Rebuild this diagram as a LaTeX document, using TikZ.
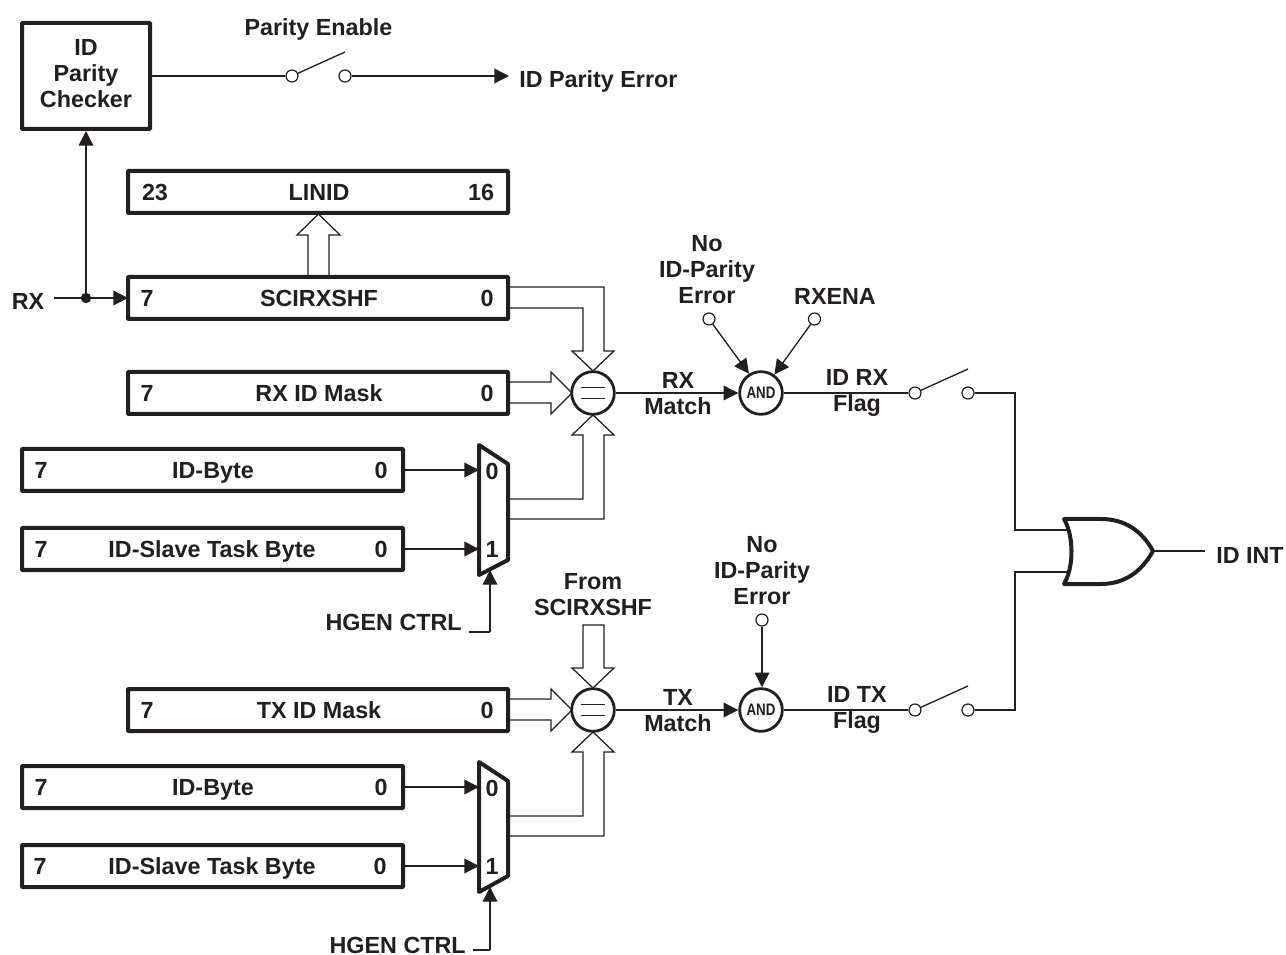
\documentclass[tikz,border=0pt]{standalone}
\usepackage{graphicx}
\usepackage{fontspec}
\setmainfont{Liberation Sans}
\definecolor{ink}{HTML}{231F20}
\usetikzlibrary{arrows.meta}
\tikzset{
  every node/.style={font=\fontsize{17.5}{19.5}\selectfont\bfseries,text=ink,inner sep=0pt},
  sl/.style={text height=12.3pt,text depth=0pt},
  wire/.style={draw=ink,line width=1pt,line join=miter},
  arr/.style={wire,-{Triangle[length=11pt,width=11pt,fill=ink]}},
  regbox/.style={draw=ink,line width=3pt,fill=white,rounded corners=0.6pt},
  lbl/.style={align=center},
  term/.style={circle,draw=ink,line width=0.9pt,fill=white,minimum size=9pt},
  blade/.style={draw=ink,line width=1pt},
  wide/.style={draw=ink,line width=0.95pt,fill=white,line join=miter},
  gatec/.style={circle,draw=ink,line width=2.1pt,fill=white,minimum size=32pt},
  gatet/.style={font=\fontsize{12.5}{13}\selectfont\bfseries},
  muxs/.style={draw=ink,line width=3pt,fill=white,line join=round}
}
\newcommand{\reg}[9]{%
  \draw[regbox] (#2,#3) rectangle (#4,#5);
  \node[sl] (#1L) at (#7,{(#3+#5)/2}) {#9};
  \coordinate (#1) at ({(#2+#4)/2},{(#3+#5)/2});
  \coordinate (#1w) at (#2,{(#3+#5)/2});
  \coordinate (#1e) at (#4,{(#3+#5)/2});
  \node[sl] at (#6,{(#3+#5)/2}) {#8};
}
\begin{document}
\begin{tikzpicture}[x=0.75pt,y=-0.75pt]
\useasboundingbox (0,0) rectangle (1286,955);

%% wide arrows
\draw[wide] (308,277) -- (308,235) -- (297,235) -- (318.5,214) -- (340,235) -- (329,235) -- (329,277);
\draw[wide] (508,287) -- (604,287) -- (604,351) -- (614,351) -- (593,371) -- (572,351) -- (583,351) -- (583,308) -- (508,308);
\draw[wide] (508,382) -- (551,382) -- (551,372) -- (572,393) -- (551,414) -- (551,403) -- (508,403);
\draw[wide] (508,499) -- (583,499) -- (583,435) -- (572,435) -- (593,415) -- (614,435) -- (604,435) -- (604,519) -- (508,519);
\draw[wide] (583,625) -- (583,668) -- (572,668) -- (593,688) -- (614,668) -- (604,668) -- (604,625) -- cycle;
\draw[wide] (508,699) -- (551,699) -- (551,689) -- (572,710) -- (551,731) -- (551,720) -- (508,720);
\draw[wide] (508,816) -- (583,816) -- (583,752) -- (572,752) -- (593,732) -- (614,752) -- (604,752) -- (604,836) -- (508,836);

%% boxes
\node[draw=ink,line width=3pt,rounded corners=0.6pt,fill=white,minimum width=96pt,minimum height=79.5pt] (chk) at (86,76) {};
\node[lbl] (chkL) at (86,74) {ID\\Parity\\Checker};
\reg{linid}{128}{171}{508}{213}{319}{155}{LINID}{23}
\node[sl] at (481,192) {16};
\reg{shf}{128}{277}{508}{319}{319}{147}{SCIRXSHF}{7}
\node[sl] at (487,298) {0};
\reg{rxm}{128}{372}{508}{414}{319}{147}{RX ID Mask}{7}
\node[sl] at (487,393) {0};
\reg{byA}{22}{449}{403}{491}{213}{41}{ID-Byte}{7}
\node[sl] at (381,470) {0};
\reg{slA}{22}{528}{403}{570}{212}{41}{ID-Slave Task Byte}{7}
\node[sl] at (381,549) {0};
\reg{txm}{128}{689}{508}{731}{319}{147}{TX ID Mask}{7}
\node[sl] at (487,710) {0};
\reg{byB}{22}{766}{403}{808}{213}{41}{ID-Byte}{7}
\node[sl] at (381,787) {0};
\reg{slB}{22}{845}{403}{887}{212}{40}{ID-Slave Task Byte}{7}
\node[sl] at (380,866) {0};

%% muxes
\draw[muxs] (479,445) -- (508,464) -- (508,560) -- (479,575) -- cycle;
\node[sl] at (492,471) {0};
\node[sl] at (492,549) {1};
\coordinate (muxA0) at (479,470);
\coordinate (muxA1) at (479,549);
\coordinate (muxAs) at (490,570);
\draw[muxs] (479,762) -- (508,781) -- (508,876) -- (479,892) -- cycle;
\node[sl] at (492,788) {0};
\node[sl] at (492,866) {1};
\coordinate (muxB0) at (479,787);
\coordinate (muxB1) at (479,866);
\coordinate (muxBs) at (490,887);

%% comparators
\node[gatec] (eqA) at (593,393) {};
\draw[draw=ink,line width=0.95pt] (581,387.5) -- (605,387.5) (581,398.5) -- (605,398.5);
\node[gatec] (eqB) at (593,710) {};
\draw[draw=ink,line width=0.95pt] (581,704.5) -- (605,704.5) (581,715.5) -- (605,715.5);
\node[gatec,gatet] (andA) at (761,393) {\scalebox{0.8}[1]{AND}};
\node[gatec,gatet] (andB) at (761,710) {\scalebox{0.8}[1]{AND}};

%% parity enable switch
\node[term] (psa) at (292,76) {};
\node[term] (psb) at (345,76) {};
\coordinate (psc) at (345,52);
\draw[blade] (psa) -- (psc);
\draw[wire] (chk.east |- psa) -- (psa);
\node[sl,anchor=west] (perr) at (519,79) {ID Parity Error};
\draw[arr] (psb) -- (509,76);
\node[sl] (pen) at (318.5,27) {Parity Enable};

%% RX input
\node[sl] (rx) at (28,301) {RX};
\coordinate (rxs) at (54,298);
\draw[arr] (rxs) -- (shfw);
\fill[ink] (86,298) circle (5.2) coordinate (rxd);
\draw[arr] (rxd) -- (chk.south -| rxd);

%% mux inputs
\draw[arr] (byAe) -- (muxA0);
\draw[arr] (slAe) -- (muxA1);
\draw[arr] (byBe) -- (muxB0);
\draw[arr] (slBe) -- (muxB1);
\node[sl,anchor=east] (hgA) at (462,622) {HGEN CTRL};
\coordinate (hgAc) at (490,632);
\draw[wire] (469,632) -- (hgAc);
\draw[arr] (hgAc) -- (muxAs);
\node[sl,anchor=east] (hgB) at (466,945) {HGEN CTRL};
\coordinate (hgBc) at (490,950);
\draw[wire] (473,950) -- (hgBc);
\draw[arr] (hgBc) -- (muxBs);

\node[lbl] (from) at (593,595) {From\\SCIRXSHF};

%% matches
\draw[arr] (eqA.east) -- (andA.west);
\draw[arr] (eqB.east) -- (andB.west);
\node[lbl] (rxm1) at (678,394) {RX\\Match};
\node[lbl] (txm1) at (678,711) {TX\\Match};

%% AND inputs
\node[lbl] (nip1) at (707,270) {No\\ID-Parity\\Error};
\node[term] (t1) at (709,319) {};
\draw[arr] (t1) -- (andA.122);
\node[sl] (rxe) at (835,296) {RXENA};
\node[term] (t2) at (814.5,319) {};
\draw[arr] (t2) -- (andA.54);
\node[lbl] (nip2) at (762,571) {No\\ID-Parity\\Error};
\node[term] (t3) at (762,620) {};
\draw[arr] (t3) -- (andB.north -| t3);

%% flags and switches
\node[lbl] (frx) at (857,393) {ID RX\\Flag};
\node[lbl] (ftx) at (857,710) {ID TX\\Flag};
\node[term] (s1a) at (915,393) {};
\node[term] (s1b) at (968,393) {};
\coordinate (s1c) at (968,369);
\draw[blade] (s1a) -- (s1c);
\draw[wire] (andA.east) -- (s1a);
\node[term] (s2a) at (915,710) {};
\node[term] (s2b) at (968,710) {};
\coordinate (s2c) at (968,686);
\draw[blade] (s2a) -- (s2c);
\draw[wire] (andB.east) -- (s2a);

%% OR gate
\coordinate (orA) at (1070,530);
\coordinate (orB) at (1070,572);
\draw[wire] (s1b) -- (1015,393) -- (1015,530) -- (orA);
\draw[wire] (s2b) -- (1015,710) -- (1015,572) -- (orB);
\draw[draw=ink,line width=3pt,fill=white,line join=round] (1064,519)
  -- (1101,519) .. controls (1125,519) and (1142,531) .. (1153,551) coordinate (orO)
  .. controls (1142,571) and (1125,584) .. (1101,584)
  -- (1064,584) .. controls (1074,567) and (1074,536) .. cycle;
\coordinate (orE) at (1205,551);
\draw[wire] (orO) -- (orE);
\node[sl,anchor=west] (iint) at (1216,555) {ID INT};
\end{tikzpicture}
\end{document}
